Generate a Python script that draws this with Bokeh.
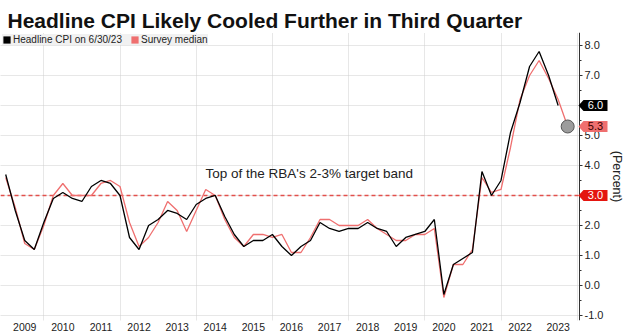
import pandas as pd
from bokeh.plotting import figure
from bokeh.models import (ColumnDataSource, FixedTicker, Range1d, Label,
                          Legend, LegendItem, PrintfTickFormatter, PolyAnnotation)
from bokeh.embed import file_html
from bokeh.resources import INLINE
from bokeh.core.properties import value

# ---------------- data ----------------
cpi_quarters = pd.period_range("2008Q4", "2023Q2", freq="Q")
cpi_values = [3.7, 2.5, 1.5, 1.2,
              2.1, 2.9, 3.1, 2.9,
              2.8, 3.3, 3.5, 3.4,
              3.0, 1.6, 1.2, 2.0,
              2.2, 2.5, 2.4, 2.2,
              2.7, 2.9, 3.0, 2.3,
              1.7, 1.3, 1.5, 1.5,
              1.7, 1.3, 1.0, 1.3,
              1.5, 2.1, 1.9, 1.8,
              1.9, 1.9, 2.1, 1.9,
              1.8, 1.3, 1.6, 1.7,
              1.8, 2.2, -0.3, 0.7,
              0.9, 1.1, 3.8, 3.0,
              3.5, 5.1, 6.1, 7.3,
              7.8, 7.0, 6.0]

survey_quarters = pd.period_range("2008Q4", "2023Q3", freq="Q")
survey_values = [3.6, 2.6, 1.4, 1.2,
                 2.0, 3.0, 3.4, 3.0,
                 3.0, 3.0, 3.4, 3.5,
                 3.3, 2.1, 1.3, 1.6,
                 2.1, 2.8, 2.5, 1.8,
                 2.5, 3.2, 3.0, 2.2,
                 1.6, 1.3, 1.7, 1.7,
                 1.6, 1.7, 1.1, 1.1,
                 1.6, 2.2, 2.2, 2.0,
                 2.0, 2.0, 2.2, 1.9,
                 1.7, 1.5, 1.5, 1.7,
                 1.7, 1.9, -0.4, 0.7,
                 0.7, 1.2, 3.6, 3.1,
                 3.2, 4.6, 6.2, 7.0,
                 7.5, 6.9, 6.2, 5.3]

year_label_years = list(range(2009, 2024))
grid_years = list(range(2010, 2025, 2))
y_ticks = list(range(-1, 9))
target_top = 3.0

title_text = "Headline CPI Likely Cooled Further in Third Quarter"
cpi_label = "Headline CPI on 6/30/23"
survey_label = "Survey median"
band_text = "Top of the RBA's 2-3% target band"


def decimal_year(periods):
    # quarter-end position in fractional years
    return list(periods.year + periods.quarter / 4.0)


cpi_x = decimal_year(cpi_quarters)
survey_x = decimal_year(survey_quarters)
cpi_src = ColumnDataSource(dict(x=cpi_x, y=cpi_values))
survey_src = ColumnDataSource(dict(x=survey_x, y=survey_values))
last_src = ColumnDataSource(dict(x=survey_x[-1:], y=survey_values[-1:]))

# ---------------- styling constants ----------------
FONT = "Liberation Sans"
BLACK = "#000000"
SALMON = "#ef6f6f"
RED = "#e4150f"
GRID = "#cfcfcf"
CANVAS_W, FRAME_H = 624, 288
AXIS_PX = 579
PX_PER_YEAR = 38.1
X0 = 2010 - 43.3 / PX_PER_YEAR
AXIS_X = X0 + AXIS_PX / PX_PER_YEAR
Y0, Y1 = -1.167, 8.433

p = figure(width=CANVAS_W, height=335, output_backend="svg", toolbar_location=None,
           x_range=Range1d(X0, X0 + CANVAS_W / PX_PER_YEAR), y_range=Range1d(Y0, Y1),
           y_axis_location="right",
           min_border_left=0, min_border_right=0, min_border_top=32, min_border_bottom=15)
p.outline_line_color = None
p.background_fill_color = "white"

# title
p.title.text = title_text
p.title.text_font = FONT
p.title.text_font_size = "21px"
p.title.text_font_style = "bold"
p.title.text_color = "#111111"
p.title.align = "left"
p.title.offset = 7
p.title.standoff = 2

# grids: vertical via grid ticker, horizontal as segments ending at the axis
p.xgrid.ticker = FixedTicker(ticks=grid_years)
p.xgrid.grid_line_color = GRID
p.xgrid.grid_line_dash = "1 1"
p.ygrid.visible = False
hgrid_src = ColumnDataSource(dict(y=y_ticks))
p.segment(x0=X0, y0="y", x1=AXIS_X, y1="y", source=hgrid_src,
          line_color=GRID, line_dash="1 1", line_width=1)

# bottom axis: labels at mid-year
xa = p.xaxis[0]
xa.ticker = FixedTicker(ticks=[y + 0.5 for y in year_label_years])
xa.formatter = PrintfTickFormatter(format="%d")
xa.axis_line_color = None
xa.major_tick_line_color = None
xa.minor_tick_line_color = None
xa.major_tick_out = 0
xa.major_tick_in = 0
xa.major_label_standoff = 2
xa.major_label_text_font = FONT
xa.major_label_text_font_size = "10.5px"
xa.major_label_text_color = "#222222"

# right axis drawn at a fixed location inside the frame
ya = p.yaxis[0]
ya.fixed_location = AXIS_X
ya.ticker = FixedTicker(ticks=y_ticks, minor_ticks=[t + 0.5 for t in y_ticks[:-1]])
ya.formatter = PrintfTickFormatter(format="%.1f")
ya.axis_line_color = "#333333"
ya.major_tick_line_color = "#333333"
ya.minor_tick_line_color = "#333333"
ya.major_tick_out = 3
ya.major_tick_in = 0
ya.minor_tick_out = 2
ya.minor_tick_in = 0
ya.major_label_standoff = 2
ya.major_label_text_font = FONT
ya.major_label_text_font_size = "11px"
ya.major_label_text_color = "#222222"
ya.axis_label = "(Percent)"
ya.axis_label_text_font = FONT
ya.axis_label_text_font_size = "12.5px"
ya.axis_label_text_font_style = "normal"
ya.axis_label_text_color = "#222222"
ya.axis_label_standoff = 4

# target band line
target_src = ColumnDataSource(dict(y=[target_top]))
p.segment(x0=X0, y0="y", x1=AXIS_X, y1="y", source=target_src,
          line_color="#e2504c", line_dash="4 3", line_width=1.5)

# series
p.line("x", "y", source=survey_src, line_color=SALMON, line_width=1.3)
p.line("x", "y", source=cpi_src, line_color=BLACK, line_width=1.3)
p.scatter("x", "y", source=last_src, size=13, fill_color="#9c9c9c",
          line_color="#555555", line_width=1)

# annotation text
p.add_layout(Label(x=2010 + (205 - 43.3) / PX_PER_YEAR, y=3.73, text=band_text,
                   text_font=FONT, text_font_size="13.5px", text_color="#222222",
                   text_baseline="middle"))

# legend with square swatches (zero-area quads on the series points)
sw1 = p.quad(left="x", right="x", top="y", bottom="y", source=cpi_src,
             fill_color=BLACK, line_color=None)
sw2 = p.quad(left="x", right="x", top="y", bottom="y", source=survey_src,
             fill_color=SALMON, line_color=None)
legend = Legend(items=[LegendItem(label=value(cpi_label), renderers=[sw1]),
                       LegendItem(label=value(survey_label), renderers=[sw2])],
                orientation="horizontal", location="top_left",
                margin=2, padding=5, spacing=8, label_standoff=2,
                glyph_width=9, glyph_height=9, label_height=10,
                label_text_font=FONT, label_text_font_size="10px",
                label_text_color="#222222",
                background_fill_color="#f1f1f1", background_fill_alpha=1.0,
                border_line_color=None)
p.add_layout(legend)

# value flags on the right axis
half_h = 5.5 * (Y1 - Y0) / FRAME_H


def add_flag(v, fill, text_color):
    p.add_layout(PolyAnnotation(xs=[AXIS_PX - 1, AXIS_PX + 4, AXIS_PX + 28, AXIS_PX + 28, AXIS_PX + 4],
                                ys=[v, v + half_h, v + half_h, v - half_h, v - half_h],
                                xs_units="screen", ys_units="data",
                                fill_color=fill, fill_alpha=1.0, line_color=None))
    p.add_layout(Label(x=AXIS_PX + 16, x_units="screen", y=v, text=f"{v:.1f}",
                       text_font=FONT, text_font_size="11px", text_color=text_color,
                       text_align="center", text_baseline="middle"))


add_flag(cpi_values[-1], BLACK, "white")
add_flag(survey_values[-1], SALMON, "#3a0000")
add_flag(target_top, RED, "white")

open("out.html", "w").write(file_html(p, INLINE))
